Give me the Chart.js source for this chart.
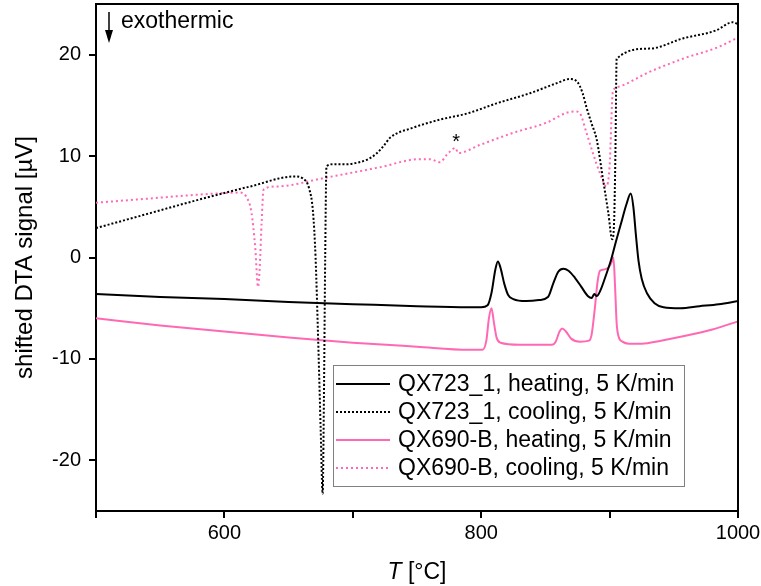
<!DOCTYPE html>
<html>
<head>
<meta charset="utf-8">
<script src="https://cdn.jsdelivr.net/npm/chart.js@4.4.1/dist/chart.umd.min.js"></script>
<style>
  body { margin: 0; background: #fff; }
  canvas { display: block; }
</style>
</head>
<body>
<canvas id="dtaChart" width="761" height="586"></canvas>
<script>
// temperatures (°C) and shifted DTA signal (µV)
var heat723T = [500, 550, 600, 650, 700, 750, 790, 800, 805, 808, 811, 813, 815, 818, 821, 825, 835, 845, 852, 856, 860, 864, 868, 873, 878, 883, 886, 888, 890, 893, 897, 901, 905, 909, 913, 916.5, 918.5, 920.5, 922.5, 925, 929, 935, 942, 955, 970, 985, 1000];
var heat723V = [-3.6, -3.9, -4.1, -4.4, -4.6, -4.8, -4.9, -4.9, -4.7, -3.5, -1.2, -0.4, -1.0, -2.6, -3.7, -4.1, -4.3, -4.2, -3.9, -2.6, -1.4, -1.1, -1.3, -2.0, -2.9, -3.8, -4.0, -3.6, -3.8, -3.2, -1.8, -0.3, 1.6, 3.4, 5.2, 6.3, 5.0, 2.2, -0.3, -2.1, -3.5, -4.5, -4.9, -5.0, -4.8, -4.6, -4.3];

var cool723T = [500, 540, 580, 620, 655, 661, 666, 669, 671, 673, 675, 676.5, 677.5, 678.5, 679.5, 685, 695, 705, 712, 718, 724, 729, 747, 768, 789, 812, 838, 859, 869, 875, 879, 882, 886, 890, 895, 899, 902, 903.5, 904.5, 905.5, 931, 957, 983, 996, 1000];
var cool723V = [2.9, 4.3, 5.7, 7.0, 8.0, 7.8, 6.8, 4.5, 0, -8, -17, -23.3, -14, 0, 9.0, 9.2, 9.2, 9.4, 9.7, 10.2, 11.0, 11.8, 12.8, 13.6, 14.2, 15.2, 16.2, 17.2, 17.6, 17.3, 16.2, 14.8, 13.2, 11.6, 7.6, 4.4, 1.8, 3.5, 10, 19.6, 20.6, 21.6, 22.4, 23.2, 23.0];

var heat690T = [500, 550, 600, 650, 700, 750, 790, 801, 804, 806, 808, 810, 812, 815, 830, 855, 858, 861, 863, 866, 870, 877, 884, 886, 888.6, 890.5, 892.5, 895, 899, 901.5, 903, 904.3, 905.5, 907, 910, 915, 925, 940, 960, 980, 1000];
var heat690V = [-6.0, -6.7, -7.3, -7.9, -8.4, -8.8, -9.1, -9.1, -8.2, -6.0, -5.0, -6.5, -7.9, -8.4, -8.6, -8.6, -8.3, -7.3, -7.0, -7.3, -8.0, -8.3, -8.2, -7.6, -4.9, -2.5, -1.3, -1.2, -1.0, -0.5, 0.0, -3.0, -6.5, -7.8, -8.3, -8.5, -8.5, -8.2, -7.7, -7.1, -6.3];

var cool690T = [500, 540, 580, 612, 617, 621, 624, 626.2, 627.5, 629, 630.5, 640, 680, 721, 752, 760, 768, 773, 780, 782, 799, 825, 851, 867, 874, 877, 882, 887, 892.5, 897.5, 900, 902.5, 905.8, 931, 957, 983.6, 1000];
var cool690V = [5.4, 5.8, 6.2, 6.4, 6.0, 4.5, 1.0, -2.9, -1.0, 3.5, 6.7, 7.0, 7.9, 8.9, 9.7, 9.7, 9.4, 10.1, 10.8, 10.3, 11.1, 12.3, 13.3, 14.3, 14.4, 14.2, 12.3, 10.3, 8.3, 7.0, 9.0, 16.3, 16.8, 18.3, 19.6, 20.7, 21.7];

var seriesLabels = ['QX723_1, heating, 5 K/min', 'QX723_1, cooling, 5 K/min', 'QX690-B, heating, 5 K/min', 'QX690-B, cooling, 5 K/min'];
var xTickLabels = [600, 800, 1000];
var yTickValues = [-20, -10, 0, 10, 20];

var FONT = '"Liberation Sans", Arial, sans-serif';
var PINK = '#ff69b4';

function pts(T, V) {
    return T.map(function(t, i) { return { x: t, y: V[i] }; });
}

// box round the plot (top and right sides)
var frame = {
    id: 'frame',
    afterDatasetsDraw: function(chart) {
        var a = chart.chartArea, ctx = chart.ctx;
        ctx.save();
        ctx.strokeStyle = '#000';
        ctx.lineWidth = 2;
        ctx.beginPath();
        ctx.moveTo(a.left, a.top);
        ctx.lineTo(a.right, a.top);
        ctx.lineTo(a.right, a.bottom);
        ctx.stroke();
        ctx.restore();
    }
};

// arrow, "exothermic", asterisk, x title, legend
var extras = {
    id: 'extras',
    afterDraw: function(chart) {
        var ctx = chart.ctx, xs = chart.scales.x, ys = chart.scales.y;
        ctx.save();

        // exothermic arrow
        ctx.strokeStyle = '#000';
        ctx.fillStyle = '#000';
        ctx.lineWidth = 1.5;
        ctx.beginPath();
        ctx.moveTo(109, 12);
        ctx.lineTo(109, 33);
        ctx.stroke();
        ctx.beginPath();
        ctx.moveTo(105, 30);
        ctx.lineTo(113, 30);
        ctx.lineTo(109, 43);
        ctx.closePath();
        ctx.fill();
        ctx.font = '23px ' + FONT;
        ctx.textBaseline = 'middle';
        ctx.textAlign = 'left';
        ctx.fillText('exothermic', 121, 22);

        // asterisk over the small pink peak
        ctx.font = '20px ' + FONT;
        ctx.textAlign = 'center';
        ctx.fillText('*', xs.getPixelForValue(780.5), ys.getPixelForValue(11.8) + 5);

        // x axis title with italic T
        ctx.textBaseline = 'alphabetic';
        ctx.textAlign = 'left';
        ctx.font = 'italic 23px ' + FONT;
        var wT = ctx.measureText('T').width;
        ctx.font = '23px ' + FONT;
        var wRest = ctx.measureText(' [°C]').width;
        var x0 = (xs.left + xs.right) / 2 - (wT + wRest) / 2;
        ctx.font = 'italic 23px ' + FONT;
        ctx.fillText('T', x0, 579);
        ctx.font = '23px ' + FONT;
        ctx.fillText(' [°C]', x0 + wT, 579);

        // legend
        ctx.fillStyle = '#fff';
        ctx.fillRect(333.5, 365.5, 351, 121);
        ctx.strokeStyle = '#808080';
        ctx.lineWidth = 1;
        ctx.strokeRect(333.5, 365.5, 351, 121);
        chart.data.datasets.forEach(function(ds, i) {
            var y = 384 + i * 28;
            ctx.beginPath();
            ctx.setLineDash(ds.borderDash || []);
            ctx.strokeStyle = ds.borderColor;
            ctx.lineWidth = ds.borderWidth;
            ctx.moveTo(336, y);
            ctx.lineTo(390, y);
            ctx.stroke();
            ctx.setLineDash([]);
            ctx.fillStyle = '#000';
            ctx.font = '23px ' + FONT;
            ctx.textBaseline = 'middle';
            ctx.fillText(ds.label, 398, y + 1);
        });
        ctx.restore();
    }
};

var ctx = document.getElementById('dtaChart').getContext('2d');
var dtaChart = new Chart(ctx, {
    type: 'line',
    data: {
        datasets: [{
            label: seriesLabels[0],
            data: pts(heat723T, heat723V),
            borderColor: '#000',
            borderWidth: 2
        }, {
            label: seriesLabels[1],
            data: pts(cool723T, cool723V),
            borderColor: '#000',
            borderWidth: 2,
            borderDash: [2, 2]
        }, {
            label: seriesLabels[2],
            data: pts(heat690T, heat690V),
            borderColor: PINK,
            borderWidth: 2
        }, {
            label: seriesLabels[3],
            data: pts(cool690T, cool690V),
            borderColor: PINK,
            borderWidth: 2,
            borderDash: [2, 3]
        }]
    },
    options: {
        responsive: false,
        animation: false,
        layout: { padding: { top: 4, right: 23, left: 0, bottom: 0 } },
        elements: {
            point: { radius: 0 },
            line: { cubicInterpolationMode: 'monotone', fill: false }
        },
        plugins: {
            legend: { display: false },
            tooltip: { enabled: false }
        },
        scales: {
            x: {
                type: 'linear',
                min: 500,
                max: 1000,
                afterFit: function(scale) {
                    scale.height = 75;
                    scale.paddingLeft = 0;
                    scale.paddingRight = 0;
                },
                ticks: {
                    stepSize: 100,
                    autoSkip: false,
                    maxRotation: 0,
                    padding: 3,
                    color: '#000',
                    font: { family: FONT, size: 20 },
                    callback: function(v) { return xTickLabels.indexOf(v) >= 0 ? String(v) : ''; }
                },
                grid: { drawOnChartArea: false, drawTicks: true, tickLength: 7, color: '#000', lineWidth: 2 },
                border: { display: true, color: '#000', width: 2 }
            },
            y: {
                min: -25,
                max: 25,
                afterFit: function(scale) {
                    scale.width = 96;
                    scale.paddingTop = 0;
                    scale.paddingBottom = 0;
                },
                afterBuildTicks: function(scale) {
                    scale.ticks = yTickValues.map(function(v) { return { value: v }; });
                },
                ticks: {
                    padding: 8,
                    color: '#000',
                    font: { family: FONT, size: 20 }
                },
                grid: { drawOnChartArea: false, drawTicks: true, tickLength: 7, color: '#000', lineWidth: 2 },
                border: { display: true, color: '#000', width: 2 },
                title: {
                    display: true,
                    text: 'shifted DTA signal [µV]',
                    color: '#000',
                    font: { family: FONT, size: 24 },
                    padding: { top: 11, bottom: 0 }
                }
            }
        }
    },
    plugins: [frame, extras]
});
</script>
</body>
</html>
